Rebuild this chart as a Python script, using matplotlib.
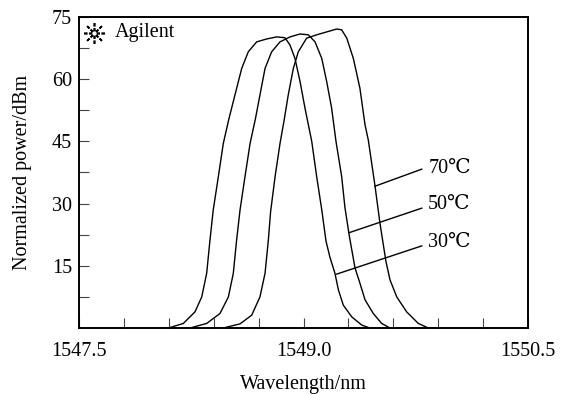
import matplotlib
matplotlib.use("Agg")
import matplotlib.pyplot as plt
from matplotlib.ticker import FixedLocator, NullFormatter

plt.rcParams['font.family'] = ['Liberation Serif', 'DejaVu Serif', 'DejaVu Sans']
plt.rcParams['font.size'] = 14.5

# spectra (wavelength in nm, normalized power)
wl_30 = [1548.097, 1548.197, 1548.275, 1548.320, 1548.353, 1548.375, 1548.397, 1548.431,
         1548.464, 1548.502, 1548.542, 1548.587, 1548.631, 1548.687, 1548.754, 1548.821,
         1548.876, 1548.910, 1548.943, 1548.977, 1549.010, 1549.055, 1549.088, 1549.122,
         1549.150, 1549.177, 1549.210, 1549.233, 1549.266, 1549.322, 1549.389, 1549.444]
pw_30 = [0.0, 1.1, 3.9, 7.5, 13.2, 21.2, 28.5, 36.5,
         44.5, 50.5, 56.2, 62.6, 66.6, 69.0, 69.7, 70.2,
         70.0, 68.2, 65.0, 59.4, 53.0, 45.0, 36.5, 28.5,
         21.0, 17.0, 13.2, 9.2, 5.5, 2.7, 0.7, 0.0]

wl_50 = [1548.242, 1548.353, 1548.442, 1548.498, 1548.531, 1548.553, 1548.576, 1548.609,
         1548.643, 1548.679, 1548.709, 1548.743, 1548.787, 1548.843, 1548.910, 1548.977,
         1549.032, 1549.077, 1549.122, 1549.155, 1549.188, 1549.217, 1549.255, 1549.277,
         1549.307, 1549.344, 1549.377, 1549.411, 1549.466, 1549.522, 1549.578]
pw_50 = [0.0, 1.1, 3.5, 7.5, 13.2, 21.2, 28.5, 36.5,
         44.5, 50.5, 56.2, 62.6, 66.6, 69.0, 70.2, 70.9,
         70.7, 69.0, 65.0, 59.4, 53.0, 45.0, 36.5, 29.0,
         22.0, 14.5, 10.8, 6.8, 3.5, 1.1, 0.0]

wl_70 = [1548.464, 1548.576, 1548.654, 1548.709, 1548.743, 1548.765, 1548.780, 1548.810,
         1548.843, 1548.870, 1548.898, 1548.932, 1548.965, 1549.021, 1549.088, 1549.155,
         1549.222, 1549.255, 1549.289, 1549.333, 1549.377, 1549.411, 1549.433, 1549.478,
         1549.511, 1549.551, 1549.578, 1549.623, 1549.689, 1549.767, 1549.834]
pw_70 = [0.0, 1.0, 3.1, 7.5, 13.2, 21.2, 28.0, 36.5,
         44.5, 50.0, 56.2, 62.6, 66.6, 69.9, 70.7, 71.4,
         72.1, 71.9, 69.9, 65.0, 57.8, 49.0, 45.3, 34.2,
         25.2, 16.0, 11.6, 7.5, 3.9, 1.1, 0.0]

temps = ["30℃", "50℃", "70℃"]
x_major = [1547.5, 1549.0, 1550.5]
x_minor = [1547.8, 1548.1, 1548.4, 1548.7, 1549.3, 1549.6, 1549.9, 1550.2]
y_major = [15, 30, 45, 60, 75]
y_minor = [7.5, 22.5, 37.5, 52.5, 67.5]

fig = plt.figure(figsize=(5.68, 3.94), dpi=100)
ax = fig.add_axes([0.1391, 0.1675, 0.7905, 0.7894])

for wl, pw in [(wl_30, pw_30), (wl_50, pw_50), (wl_70, pw_70)]:
    ax.plot(wl, pw, color="black", lw=1.0)

# leader lines from curves to the temperature labels
ends = [(1549.222, 13.0, 19.8, 20.6), (1549.306, 23.0, 28.9, 29.7), (1549.478, 34.2, 38.3, 38.4)]
for t, (x0, y0, y1, ty) in zip(temps, ends):
    ax.plot([x0, 1549.79], [y0, y1], color="black", lw=1.0)
    ax.text(1549.833, ty, t, ha="left", va="center")

# Agilent logo-ish mark
ax.plot([0.034], [0.948], transform=ax.transAxes, marker=(8, 2, 0), ms=15, mew=1.2,
        color="black", clip_on=False)
ax.plot([0.034], [0.948], transform=ax.transAxes, marker="o", ms=9, mfc="none",
        mec="white", mew=1.0, clip_on=False)
ax.plot([0.034], [0.948], transform=ax.transAxes, marker="o", ms=4, mfc="white",
        mec="black", mew=0.8, clip_on=False)
ax.text(0.080, 0.949, "Agilent", transform=ax.transAxes, ha="left", va="center")

ax.set_xlim(1547.5, 1550.5)
ax.set_ylim(0, 75)
ax.xaxis.set_major_locator(FixedLocator(x_major))
ax.xaxis.set_minor_locator(FixedLocator(x_minor))
ax.yaxis.set_major_locator(FixedLocator(y_major))
ax.yaxis.set_minor_locator(FixedLocator(y_minor))
ax.set_xticklabels(["1547.5", "1549.0", "1550.5"])
ax.set_yticklabels([str(v) for v in y_major])
ax.xaxis.set_minor_formatter(NullFormatter())
ax.tick_params(which="both", direction="in", length=7, width=0.8, color="#444444")
ax.tick_params(axis="x", pad=10)
ax.tick_params(axis="y", pad=5)

for s in ax.spines.values():
    s.set_linewidth(1.4)

ax.set_xlabel("Wavelength/nm")
ax.set_ylabel("Normalized power/dBm")
ax.xaxis.set_label_coords(0.5, -0.15)
ax.yaxis.set_label_coords(-0.105, 0.5)

fig.savefig("out.png", dpi=100)
